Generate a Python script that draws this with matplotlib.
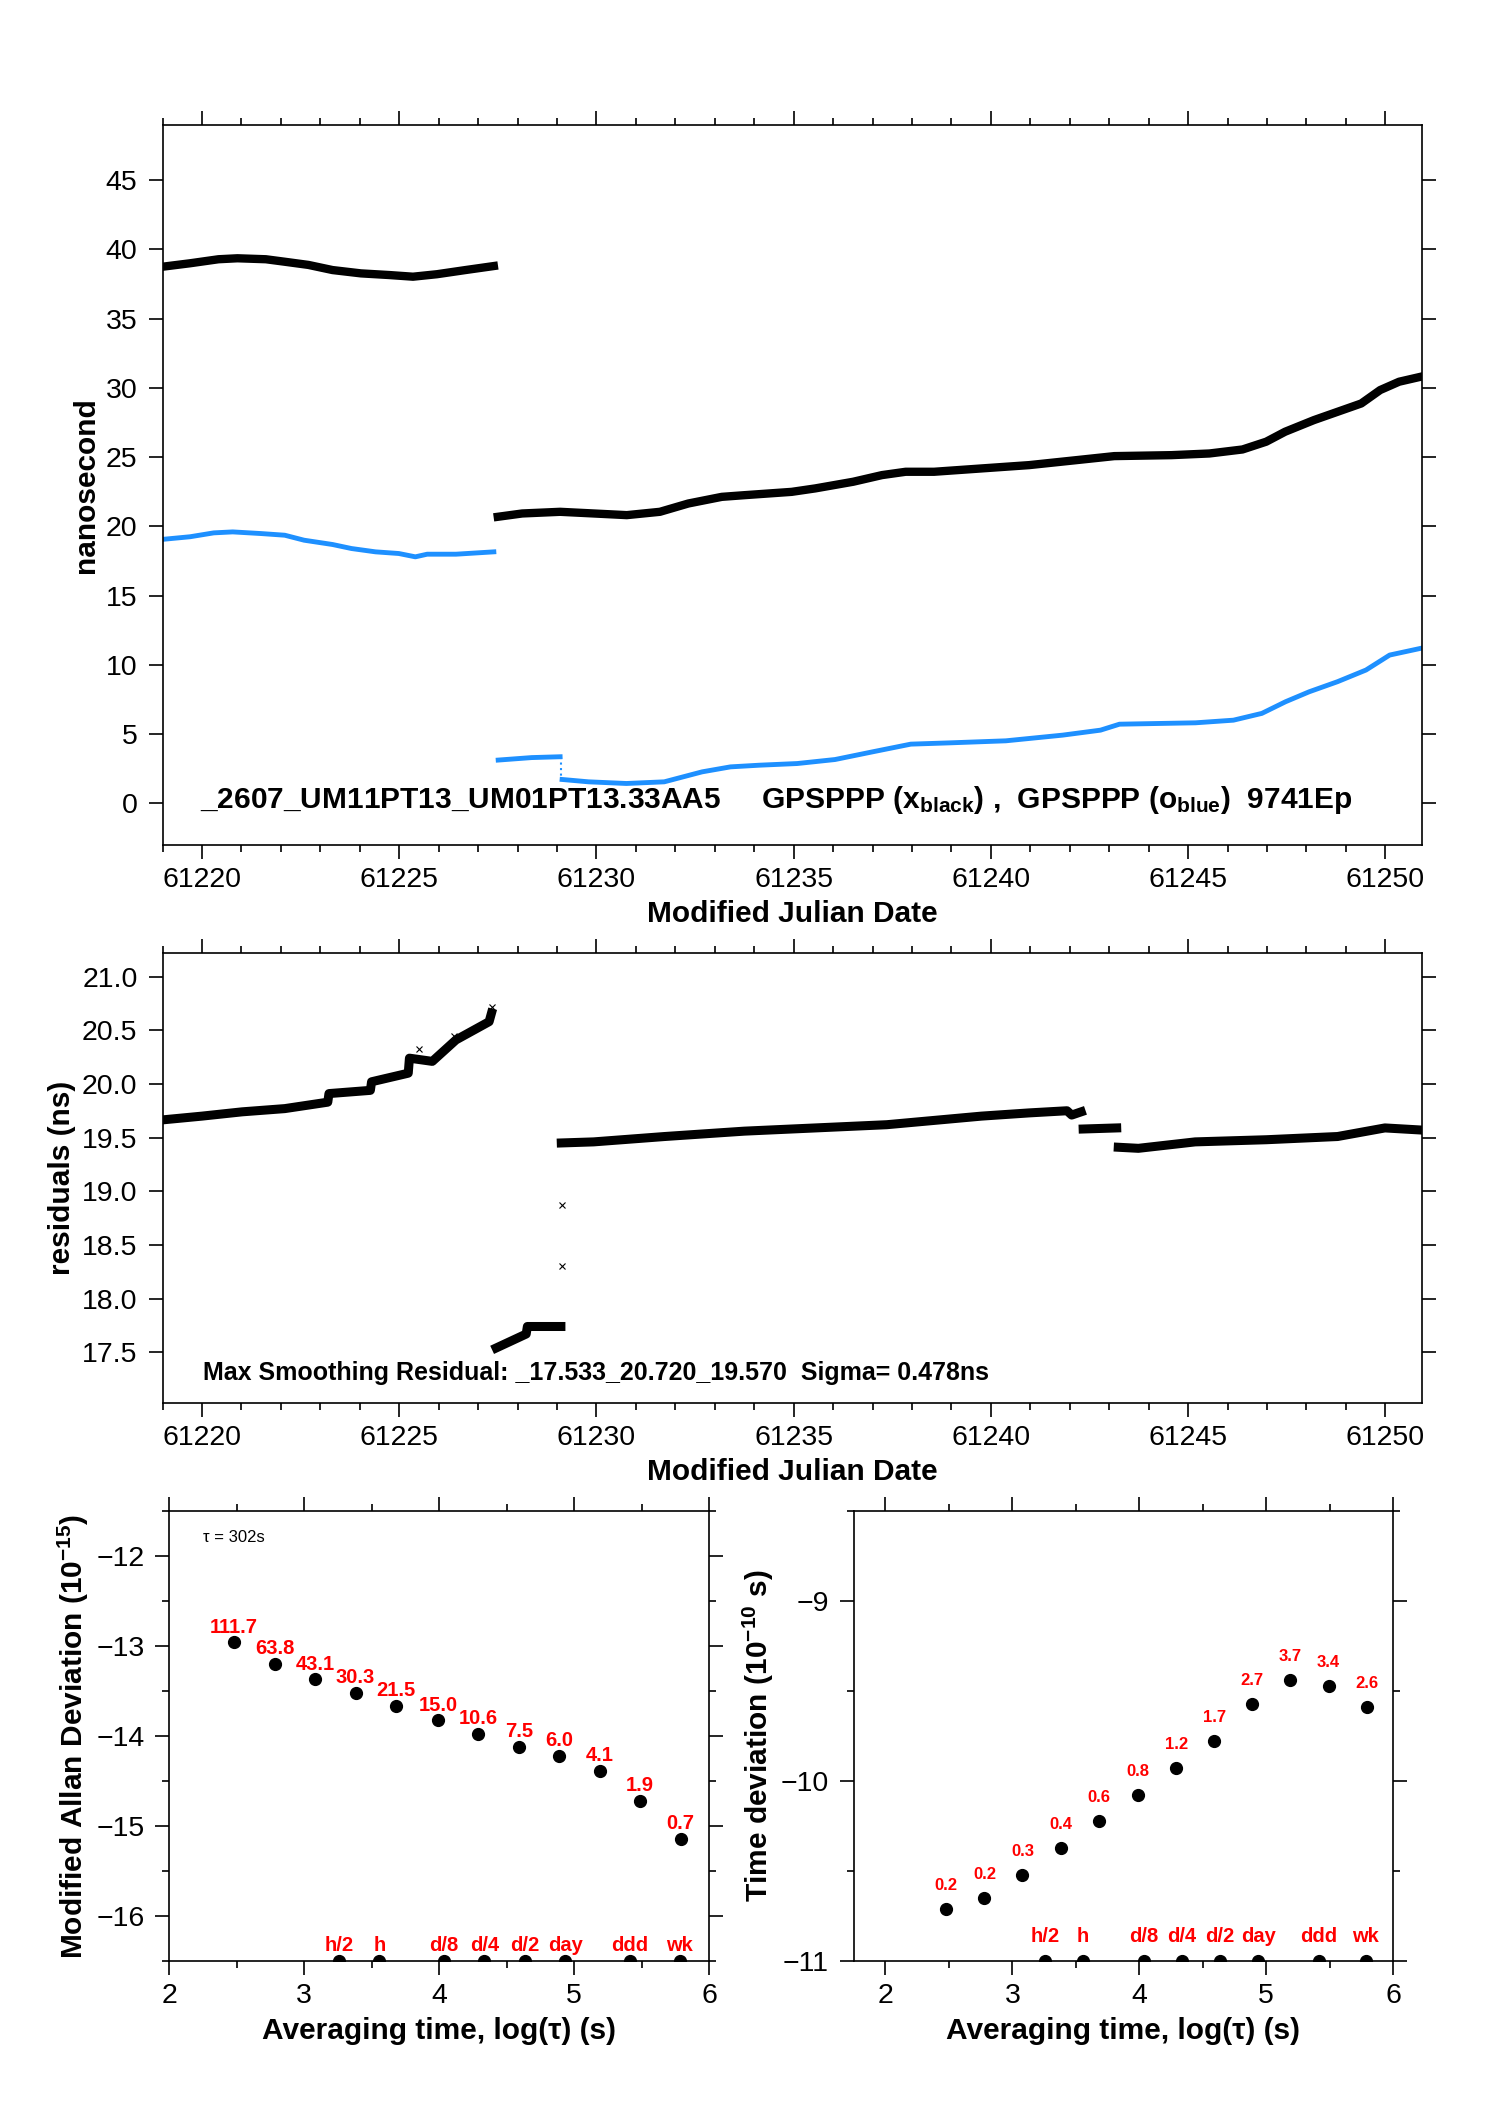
import matplotlib
matplotlib.use("Agg")
import matplotlib.pyplot as plt
from matplotlib.ticker import MultipleLocator, FormatStrFormatter

plt.rcParams["font.family"] = ["Liberation Sans", "DejaVu Sans"]
plt.rcParams["mathtext.fontset"] = "custom"
plt.rcParams["mathtext.rm"] = "Liberation Sans"
plt.rcParams["mathtext.bf"] = "Liberation Sans:bold"
plt.rcParams["mathtext.it"] = "Liberation Sans:italic"

# ---- top panel: GPSPPP time series (ns) ----
black1_mjd = [61219.0, 61219.7, 61220.42, 61220.9, 61221.62, 61222.1, 61222.7, 61223.31,
              61224.03, 61224.75, 61225.35, 61225.96, 61226.68, 61227.4]
black1_ns = [38.74, 38.99, 39.28, 39.35, 39.28, 39.1, 38.87, 38.5,
             38.26, 38.14, 38.02, 38.2, 38.5, 38.79]
black2_mjd = [61227.5, 61228.12, 61229.08, 61229.93, 61230.77, 61231.61, 61232.33, 61233.18,
              61233.75, 61234.95, 61235.55, 61236.51, 61237.24, 61237.84, 61238.56, 61239.76,
              61240.97, 61242.17, 61243.13, 61244.58, 61245.54, 61246.38, 61246.98, 61247.46,
              61248.19, 61248.91, 61249.39, 61249.87, 61250.35, 61250.9]
black2_ns = [20.69, 20.93, 21.05, 20.93, 20.81, 21.05, 21.65, 22.13,
             22.25, 22.49, 22.74, 23.22, 23.7, 23.94, 23.94, 24.18,
             24.42, 24.78, 25.07, 25.14, 25.26, 25.55, 26.11, 26.83,
             27.67, 28.39, 28.87, 29.84, 30.44, 30.8]
blue1_mjd = [61219.0, 61219.7, 61220.3, 61220.78, 61221.5, 61222.1, 61222.59, 61223.31,
             61223.79, 61224.4, 61224.99, 61225.41, 61225.71, 61226.44, 61227.4]
blue1_ns = [19.06, 19.25, 19.53, 19.6, 19.48, 19.36, 19.0, 18.69,
            18.4, 18.16, 18.04, 17.8, 17.99, 17.99, 18.16]
blue2_mjd = [61227.51, 61228.36, 61229.08]
blue2_ns = [3.13, 3.31, 3.37]
blue_gap_mjd = [61229.1, 61229.1]
blue_gap_ns = [3.37, 1.73]
blue3_mjd = [61229.13, 61229.8, 61230.76, 61231.72, 61232.68, 61233.4, 61234.13, 61235.09,
             61236.05, 61237.01, 61237.97, 61238.93, 61240.38, 61241.82, 61242.78, 61243.26,
             61245.19, 61246.15, 61246.87, 61247.47, 61248.07, 61248.79, 61249.51, 61250.11,
             61250.89]
blue3_ns = [1.73, 1.56, 1.44, 1.56, 2.28, 2.64, 2.76, 2.88,
            3.17, 3.73, 4.28, 4.37, 4.52, 4.93, 5.29, 5.72,
            5.82, 6.01, 6.5, 7.34, 8.06, 8.79, 9.63, 10.71,
            11.19]

# ---- middle panel: residuals (ns) ----
res1_mjd = [61219.0, 61220.0, 61221.02, 61222.1, 61223.19, 61223.22, 61224.27, 61224.3,
            61225.23, 61225.26, 61225.84, 61226.26, 61226.44, 61227.28, 61227.34]
res1_ns = [19.665, 19.70, 19.74, 19.77, 19.83, 19.91, 19.94, 20.02,
           20.10, 20.24, 20.21, 20.35, 20.41, 20.58, 20.66]
res2_mjd = [61227.46, 61228.22, 61228.25, 61229.1]
res2_ns = [17.54, 17.67, 17.74, 17.74]
res3_mjd = [61229.11, 61229.93, 61231.73, 61233.75, 61234.95, 61237.36, 61238.56, 61239.76,
            61240.97, 61241.93, 61242.05, 61242.29]
res3_ns = [19.45, 19.46, 19.51, 19.56, 19.58, 19.62, 19.66, 19.70,
           19.73, 19.75, 19.71, 19.74]
res4_mjd = [61242.34, 61243.19]
res4_ns = [19.58, 19.59]
res5_mjd = [61243.23, 61243.74, 61245.18, 61246.98, 61248.79, 61249.99, 61250.93]
res5_ns = [19.41, 19.40, 19.46, 19.48, 19.51, 19.59, 19.57]
res_out_mjd = [61229.12, 61229.12, 61225.5, 61226.4, 61227.35]
res_out_ns = [18.87, 18.30, 20.33, 20.45, 20.72]

# ---- bottom panels: stability ----
log_tau = [2.48, 2.78, 3.08, 3.38, 3.68, 3.99, 4.29, 4.59, 4.89, 5.19, 5.49, 5.79]
mdev_log = [-12.956, -13.198, -13.368, -13.517, -13.666, -13.823, -13.976, -14.121,
            -14.218, -14.388, -14.72, -15.145]
mdev_lbl = ["111.7", "63.8", "43.1", "30.3", "21.5", "15.0", "10.6", "7.5",
            "6.0", "4.1", "1.9", "0.7"]
tdev_log = [-10.709, -10.651, -10.52, -10.373, -10.22, -10.078, -9.927, -9.776,
            -9.572, -9.436, -9.47, -9.589]
tdev_lbl = ["0.2", "0.2", "0.3", "0.4", "0.6", "0.8", "1.2", "1.7",
            "2.7", "3.7", "3.4", "2.6"]
span_log = [3.255, 3.556, 4.033, 4.334, 4.635, 4.936, 5.414, 5.782]
span_lbl = ["h/2", "h", "d/8", "d/4", "d/2", "day", "ddd", "wk"]

W, H = 1488, 2105
BLUE = "#1e90ff"
LAB = 21.5


def box(l, t, r, b):
    return [l / W, 1 - b / H, (r - l) / W, (b - t) / H]


def style(ax, xmaj, xmin, ymaj, ymin=None):
    ax.xaxis.set_major_locator(MultipleLocator(xmaj))
    ax.xaxis.set_minor_locator(MultipleLocator(xmin))
    ax.yaxis.set_major_locator(MultipleLocator(ymaj))
    if ymin:
        ax.yaxis.set_minor_locator(MultipleLocator(ymin))
    else:
        ax.yaxis.set_minor_locator(plt.NullLocator())
    ax.tick_params(which="both", direction="out", top=True, right=True,
                   width=1.2, labelsize=20.5)
    ax.tick_params(axis="x", which="major", length=10, pad=6)
    ax.tick_params(axis="y", which="major", length=10, pad=8)
    ax.tick_params(which="minor", length=5)
    for s in ax.spines.values():
        s.set_linewidth(1.2)


fig = plt.figure(figsize=(W / 100, H / 100), dpi=100)

# top panel
ax1 = fig.add_axes(box(162.5, 125, 1422, 845))
ax1.plot(black1_mjd, black1_ns, color="black", lw=6)
ax1.plot(black2_mjd, black2_ns, color="black", lw=6)
ax1.plot(blue1_mjd, blue1_ns, color=BLUE, lw=3.5)
ax1.plot(blue2_mjd, blue2_ns, color=BLUE, lw=3.5)
ax1.plot(blue_gap_mjd, blue_gap_ns, color=BLUE, lw=1.5, ls=":")
ax1.plot(blue3_mjd, blue3_ns, color=BLUE, lw=3.5)
ax1.set_xlim(61219.0, 61250.93)
ax1.set_ylim(-3.0, 48.97)
style(ax1, 5, 1, 5)
ax1.text(61219.95, -0.35,
         r"_2607_UM11PT13_UM01PT13.33AA5     GPSPPP (x$_{\mathbf{black}}$) ,  "
         r"GPSPPP (o$_{\mathbf{blue}}$)  9741Ep",
         fontsize=21.5, fontweight="bold", va="baseline")
fig.text(792 / W, 1 - 921.7 / H, "Modified Julian Date", fontsize=LAB,
         fontweight="bold", ha="center", va="baseline")
fig.text(86 / W, 1 - 485 / H, "nanosecond", fontsize=LAB, fontweight="bold",
         rotation=90, ha="center", va="center")

# middle panel
ax2 = fig.add_axes(box(162.5, 953.3, 1422, 1402.7))
for xs, ys in [(res1_mjd, res1_ns), (res2_mjd, res2_ns), (res3_mjd, res3_ns),
               (res4_mjd, res4_ns), (res5_mjd, res5_ns)]:
    ax2.plot(xs, ys, color="black", lw=6.5)
ax2.plot(res_out_mjd, res_out_ns, "x", color="black", ms=4, mew=0.8)
ax2.set_xlim(61219.0, 61250.93)
ax2.set_ylim(17.03, 21.217)
style(ax2, 5, 1, 0.5)
ax2.yaxis.set_major_formatter(FormatStrFormatter("%.1f"))
ax2.text(61220.02, 17.242,
         "Max Smoothing Residual: _17.533_20.720_19.570  Sigma= 0.478ns",
         fontsize=18, fontweight="bold", va="baseline")
fig.text(792 / W, 1 - 1480 / H, "Modified Julian Date", fontsize=LAB,
         fontweight="bold", ha="center", va="baseline")
fig.text(62 / W, 1 - 1178 / H, "residuals (ns)", fontsize=LAB, fontweight="bold",
         rotation=90, ha="center", va="center")

# bottom left: modified Allan deviation
ax3 = fig.add_axes(box(169.4, 1511.4, 709, 1961))
ax3.plot(log_tau, mdev_log, "o", color="black", ms=8.5)
ax3.plot(span_log, [-16.5] * len(span_log), "o", color="black", ms=8.5)
for x, y, t in zip(log_tau, mdev_log, mdev_lbl):
    ax3.annotate(t, (x, y), xytext=(0, 11), textcoords="offset points",
                 ha="center", va="center", color="red", fontsize=14.5,
                 fontweight="bold")
for x, t in zip(span_log, span_lbl):
    ax3.annotate(t, (x, -16.5), xytext=(0, 11), textcoords="offset points",
                 ha="center", va="center", color="red", fontsize=14.5,
                 fontweight="bold")
ax3.set_xlim(2, 6)
ax3.set_ylim(-16.5, -11.5)
style(ax3, 1, 0.5, 1, 0.5)
ax3.text(2.249, -11.787, "\u03c4 = 302s", fontsize=12, va="center")
fig.text(439.2 / W, 1 - 2038.7 / H, "Averaging time, log(\u03c4) (s)", fontsize=LAB,
         fontweight="bold", ha="center", va="baseline")
fig.text(73 / W, 1 - 1736 / H, r"Modified Allan Deviation (10$^{\mathbf{-15}}$)",
         fontsize=LAB, fontweight="bold", rotation=90, ha="center", va="center")

# bottom right: time deviation
ax4 = fig.add_axes(box(853.6, 1511.4, 1393.3, 1961))
ax4.plot(log_tau, tdev_log, "o", color="black", ms=8.5)
ax4.plot(span_log, [-11.0] * len(span_log), "o", color="black", ms=8.5)
for x, y, t in zip(log_tau, tdev_log, tdev_lbl):
    ax4.annotate(t, (x, y), xytext=(0, 17), textcoords="offset points",
                 ha="center", va="center", color="red", fontsize=12,
                 fontweight="bold")
for x, t in zip(span_log, span_lbl):
    ax4.annotate(t, (x, -11.0), xytext=(0, 17.5), textcoords="offset points",
                 ha="center", va="center", color="red", fontsize=14.5,
                 fontweight="bold")
ax4.set_xlim(1.75, 6)
ax4.set_ylim(-11, -8.5)
style(ax4, 1, 0.5, 1, 0.5)
fig.text(1123.5 / W, 1 - 2038.7 / H, "Averaging time, log(\u03c4) (s)", fontsize=LAB,
         fontweight="bold", ha="center", va="baseline")
fig.text(758 / W, 1 - 1736 / H, r"Time deviation (10$^{\mathbf{-10}}$ s)",
         fontsize=LAB, fontweight="bold", rotation=90, ha="center", va="center")

fig.savefig("out.png", dpi=100)
